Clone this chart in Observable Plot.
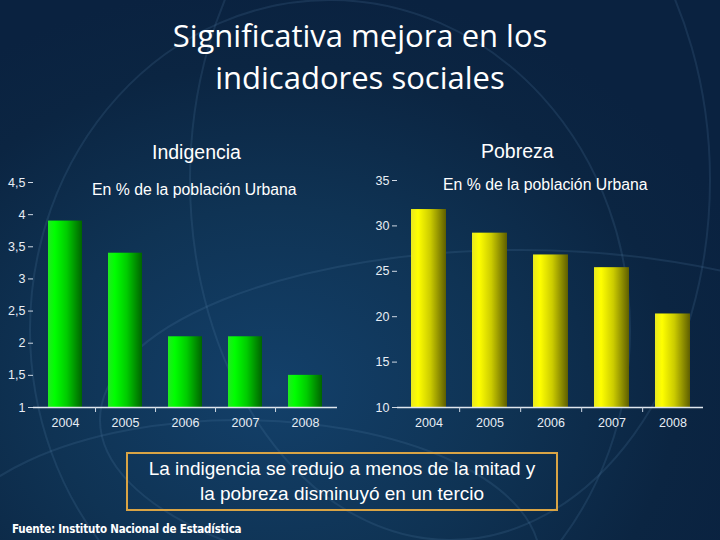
<!DOCTYPE html>
<html>
<head>
<meta charset="utf-8">
<script src="https://cdn.jsdelivr.net/npm/d3@7"></script>
<script src="https://cdn.jsdelivr.net/npm/@observablehq/plot@0.6"></script>
<style>
  html, body { margin: 0; padding: 0; }
  body { width: 720px; height: 540px; overflow: hidden; }
  #page {
    position: relative; width: 720px; height: 540px; overflow: hidden;
    background: radial-gradient(ellipse 70% 75% at 38% 72%, #13406a 0%, #0f3354 45%, #0b2542 80%, #0a2240 100%);
    font-family: "Liberation Sans", Arial, sans-serif; color: #fff;
  }
  #deco { position: absolute; left: 0; top: 0; }
  .abs { position: absolute; }
  #title { left: 0; width: 720px; top: 14px; text-align: center; font-family: "Open Sans", "Noto Sans", sans-serif; font-size: 31px; line-height: 42px; color: #fff; }
  .head { font-size: 19.5px; color: #fff; }
  .sub { font-size: 15.8px; color: #fff; }
  #box { left: 126px; top: 452px; width: 428px; height: 53px; border: 2px solid #d9a445; text-align: center; font-size: 19px; line-height: 25px; padding-top: 2px; box-sizing: content-box; font-stretch: condensed; }
  #src { left: 12px; top: 522px; font-family: "DejaVu Sans Condensed", "DejaVu Sans", sans-serif; font-stretch: condensed; font-size: 11.5px; font-weight: bold; color: #fff; letter-spacing: -0.2px; }
  .chart { position: absolute; top: 170px; }
</style>
</head>
<body>
<div id="page">
  <svg id="deco" width="720" height="540">
    <g fill="none" stroke="#5b86ad" stroke-opacity="0.18" stroke-width="2">
      <ellipse cx="330" cy="330" rx="300" ry="330"/>
      <ellipse cx="520" cy="420" rx="420" ry="170"/>
      <ellipse cx="240" cy="560" rx="300" ry="140"/>
      <ellipse cx="450" cy="180" rx="260" ry="360"/>
    </g>
  </svg>
  <div id="title" class="abs">Significativa mejora en los<br>indicadores sociales</div>
  <div class="abs head" style="left:152px; top:141px;">Indigencia</div>
  <div class="abs head" style="left:481px; top:140px;">Pobreza</div>
  <div id="left" class="chart" style="left:0px;"></div>
  <div id="right" class="chart" style="left:360px;"></div>
  <div class="abs sub" style="left:92px; top:181px;">En % de la población Urbana</div>
  <div class="abs sub" style="left:443px; top:176px;">En % de la población Urbana</div>
  <div id="box" class="abs">La indigencia se redujo a menos de la mitad y<br>la pobreza disminuyó en un tercio</div>
  <div id="src" class="abs">Fuente: Instituto Nacional de Estadística</div>
</div>
<script>
const years = ["2004", "2005", "2006", "2007", "2008"];
const indigencia = [3.9, 3.4, 2.1, 2.1, 1.5];
const pobreza = [31.8, 29.2, 26.8, 25.4, 20.3];
const indigenciaTicks = [1, 1.5, 2, 2.5, 3, 3.5, 4, 4.5];
const pobrezaTicks = [10, 15, 20, 25, 30, 35];

const comma = d => String(d).replace(".", ",");

function gradientDefs(id, stops) {
  return () => {
    const defs = d3.create("svg:defs");
    const g = defs.append("linearGradient").attr("id", id)
      .attr("x1", "0").attr("x2", "1").attr("y1", "0").attr("y2", "0");
    for (const [o, c] of stops) g.append("stop").attr("offset", o).attr("stop-color", c);
    return defs.node();
  };
}

function makeChart({values, ticks, domain, gradId, stops, width, marginLeft, marginRight, marginTop, marginBottom, paddingInner, paddingOuter, yLine}) {
  const data = years.map((y, i) => ({year: y, value: values[i]}));
  const step = (width - marginLeft - marginRight) / (years.length - paddingInner + 2 * paddingOuter);
  return Plot.plot({
    width, height: 270,
    marginLeft, marginRight, marginTop, marginBottom,
    style: {background: "transparent", color: "#e8eef5", fontFamily: "Liberation Sans, Arial, sans-serif", fontSize: "12.5px", overflow: "visible"},
    x: {domain: years, paddingInner, paddingOuter, label: null},
    y: {domain, ticks, label: null},
    marks: [
      gradientDefs(gradId, stops),
      Plot.barY(data, {x: "year", y1: domain[0], y2: "value", fill: `url(#${gradId})`}),
      Plot.axisY({ticks, tickFormat: comma, tickSize: 5, tickPadding: 3, stroke: "#cfd8e3", fill: "#e8eef5", fontSize: 12.5, label: null}),
      yLine ? Plot.ruleX([0], {frameAnchor: "left", stroke: "#cfd8e3", strokeWidth: 1}) : null,
      Plot.ruleY([domain[0]], {stroke: "#dfe6ee", strokeWidth: 1.5}),
      Plot.axisX({tickSize: 0, tickPadding: 11, fill: "#e8eef5", fontSize: 12.5, label: null}),
      Plot.axisX({ticks: years.slice(0, 4), tickFormat: () => "", tickSize: 5, dx: step / 2, stroke: "#cfd8e3", label: null})
    ]
  });
}

document.getElementById("left").append(makeChart({
  values: indigencia, ticks: indigenciaTicks, domain: [1, 4.5], gradId: "gGreen",
  stops: [[0, "#22e822"], [0.2, "#00ff00"], [0.55, "#00cc00"], [1, "#006400"]],
  width: 350, marginLeft: 33, marginRight: 13, marginTop: 12, marginBottom: 33,
  paddingInner: 0.44, paddingOuter: 0.25, yLine: false
}));

document.getElementById("right").append(makeChart({
  values: pobreza, ticks: pobrezaTicks, domain: [10, 35], gradId: "gYellow",
  stops: [[0, "#e8e820"], [0.2, "#ffff00"], [0.55, "#cccc00"], [1, "#5e5e00"]],
  width: 360, marginLeft: 37, marginRight: 17, marginTop: 10, marginBottom: 33,
  paddingInner: 0.43, paddingOuter: 0.21, yLine: true
}));
</script>
</body>
</html>
